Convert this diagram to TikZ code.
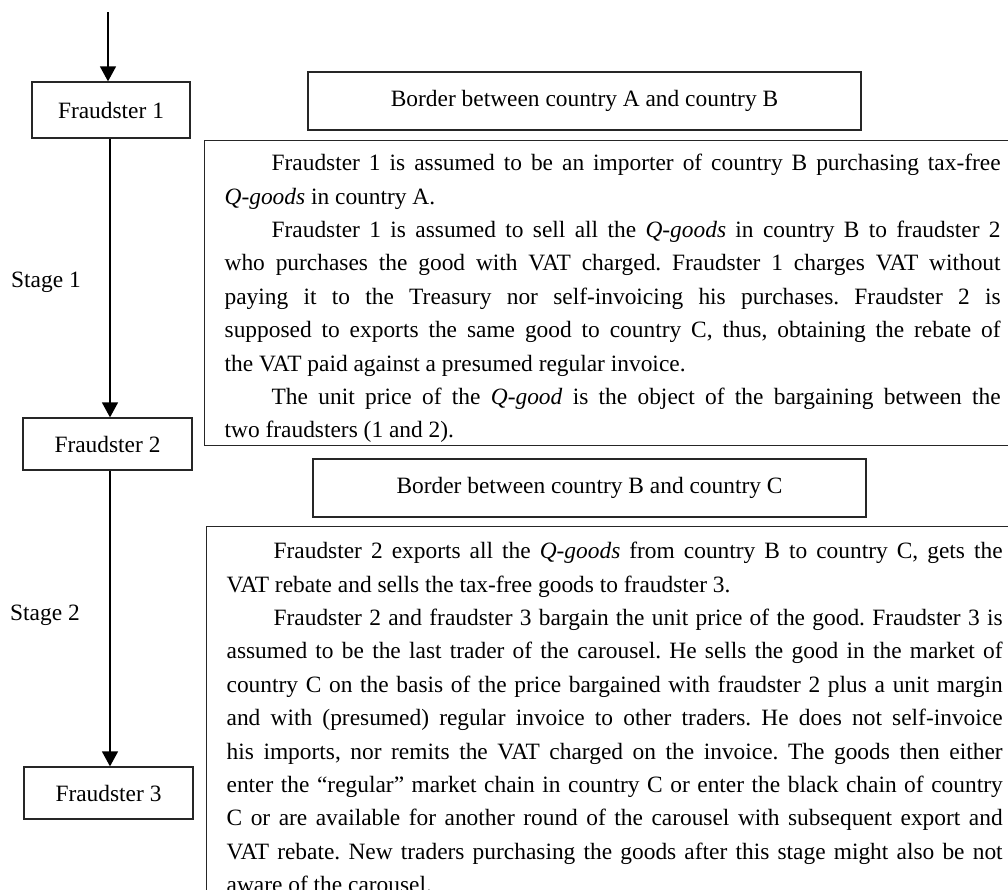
\documentclass[tikz,border=0pt]{standalone}
\usepackage{fontspec}
\setmainfont{Liberation Serif}
\usepackage{tikz}
\usetikzlibrary{arrows.meta,positioning}

\newcommand{\firstind}{\hspace*{23.5pt}}
\hbadness=10000
\hyphenpenalty=10000
\frenchspacing

\begin{document}
\begin{tikzpicture}[
    x=0.5pt, y=-0.5pt,
    every node/.style={font=\fontsize{11.7}{16.7}\selectfont},
    fraudbox/.style={draw=black!85, line width=0.65pt, rectangle, minimum width=84.5pt, minimum height=26pt, align=center},
    borderbox/.style={draw=black!85, line width=0.65pt, rectangle, minimum width=276.5pt, minimum height=29pt, align=center},
    textbox/.style={draw=black!85, line width=0.65pt, rectangle, anchor=north west, text width=388pt, align=justify, inner xsep=10pt, inner ysep=7pt, text height=8pt},
    arrow/.style={-{Triangle[width=8pt,length=7.5pt]}, line width=0.75pt}
]
\useasboundingbox (0,0) rectangle (1008,890);
\clip (0,0) rectangle (1008,890);

% fraudsters
\coordinate (start) at (108,12);
\node[fraudbox, minimum width=79pt, minimum height=28pt] (f1) at (111,110) {Fraudster 1};
\node[fraudbox] (f2) at (107.5,444) {Fraudster 2};
\node[fraudbox] (f3) at (108.5,793) {Fraudster 3};

\node (stage1) at (46,282) {Stage 1};
\node (stage2) at (45,615) {Stage 2};

\draw[arrow] (start) -- (start |- f1.north);
\draw[arrow] (f1.south -| 110,0) -- (f2.north -| 110,0);
\draw[arrow] (f2.south -| 110,0) -- (f3.north -| 110,0);

% borders
\node[borderbox] (borderab) at (584.5,101) {Border between country A and country B};
\node[borderbox] (borderbc) at (589.5,488) {Border between country B and country C};

% stage texts
\node[textbox, text depth=130.5pt] (stage1txt) at (204,140) {%
\firstind Fraudster 1 is assumed to be an importer of country B purchasing tax-free \linebreak
\textit{Q-goods} in country A.\par
\firstind Fraudster 1 is assumed to sell all the \textit{Q-goods} in country B to fraudster 2 \linebreak
who purchases the good with VAT charged. Fraudster 1 charges VAT without \linebreak
paying it to the Treasury nor self-invoicing his purchases. Fraudster 2 is \linebreak
supposed to exports the same good to country C, thus, obtaining the rebate of \linebreak
the VAT paid against a presumed regular invoice.\par
\firstind The unit price of the \textit{Q-good} is the object of the bargaining between the \linebreak
two fraudsters (1 and 2).};

\node[textbox, inner ysep=8pt] (stage2txt) at (206,526) {%
\firstind Fraudster 2 exports all the \textit{Q-goods} from country B to country C, gets the \linebreak
VAT rebate and sells the tax-free goods to fraudster 3.\par
\firstind Fraudster 2 and fraudster 3 bargain the unit price of the good. Fraudster 3 is \linebreak
assumed to be the last trader of the carousel. He sells the good in the market of \linebreak
country C on the basis of the price bargained with fraudster 2 plus a unit margin \linebreak
and with (presumed) regular invoice to other traders. He does not self-invoice \linebreak
his imports, nor remits the VAT charged on the invoice. The goods then either \linebreak
enter the “regular” market chain in country C or enter the black chain of country \linebreak
C or are available for another round of the carousel with subsequent export and \linebreak
VAT rebate. New traders purchasing the goods after this stage might also be not \linebreak
aware of the carousel.};

\end{tikzpicture}
\end{document}
